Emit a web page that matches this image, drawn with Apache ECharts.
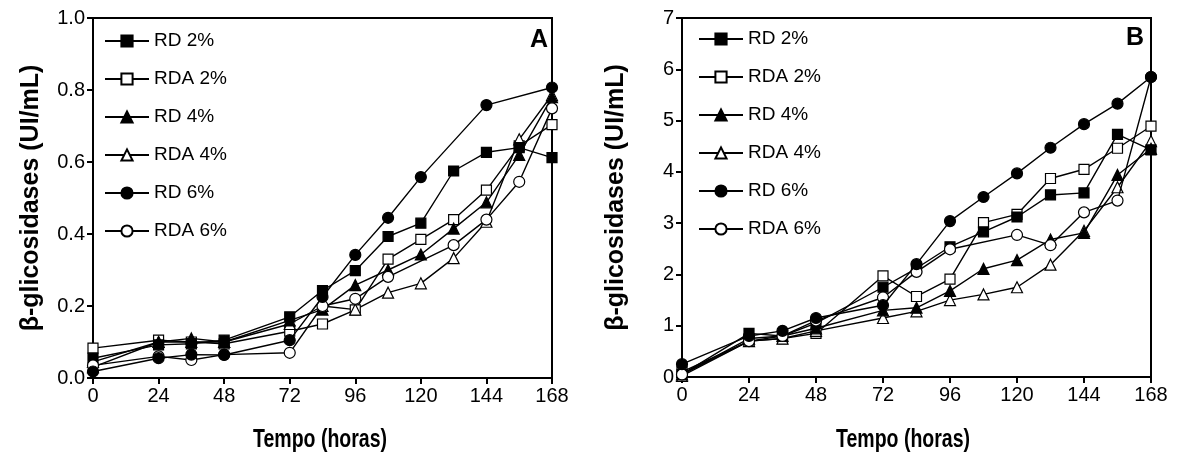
<!DOCTYPE html>
<html>
<head>
<meta charset="utf-8">
<script src="https://cdn.jsdelivr.net/npm/echarts@6/dist/echarts.min.js"></script>
<style>
html,body{margin:0;padding:0;background:#fff;}
#c{width:1181px;height:465px;}
</style>
</head>
<body>
<div id="c"></div>
<script>
// ---- data ----
const hours = [0, 24, 36, 48, 72, 84, 96, 108, 120, 132, 144, 156, 168];
const seriesNames = ['RD 2%', 'RDA 2%', 'RD 4%', 'RDA 4%', 'RD 6%', 'RDA 6%'];

// Panel A (UI/mL)
const A_RD2  = [0.055, 0.092, 0.095, 0.105, 0.170, 0.243, 0.298, 0.393, 0.430, 0.575, 0.627, 0.640, 0.612];
const A_RDA2 = [0.083, 0.105, 0.100, 0.095, 0.130, 0.150, 0.189, 0.330, 0.385, 0.440, 0.522, 0.645, 0.704];
const A_RD4  = [0.045, 0.100, 0.110, 0.100, 0.160, 0.190, 0.258, 0.300, 0.343, 0.415, 0.488, 0.620, 0.780];
const A_RDA4 = [0.030, 0.100, 0.100, 0.100, 0.150, 0.200, 0.190, 0.237, 0.263, 0.333, 0.434, 0.663, 0.786];
const A_RD6  = [0.018, 0.055, 0.065, 0.064, 0.105, 0.225, 0.342, 0.445, 0.558, null, 0.758, null, 0.807];
const A_RDA6 = [0.035, 0.060, 0.050, 0.065, 0.070, 0.200, 0.220, 0.281, null, 0.369, 0.440, 0.545, 0.749];

// Panel B (UI/mL)
const B_RD2  = [0.05, 0.85, 0.80, 1.05, 1.75, 2.12, 2.54, 2.83, 3.12, 3.55, 3.59, 4.73, 4.43];
const B_RDA2 = [0.10, 0.70, 0.75, 0.85, 1.97, 1.57, 1.91, 3.01, 3.17, 3.87, 4.05, 4.46, 4.89];
const B_RD4  = [0.05, 0.75, 0.80, 0.95, 1.30, 1.35, 1.68, 2.11, 2.28, 2.68, 2.81, 3.94, 4.45];
const B_RDA4 = [0.02, 0.70, 0.75, 0.90, 1.15, 1.28, 1.50, 1.61, 1.75, 2.19, 2.85, 3.70, 4.60];
const B_RD6  = [0.25, 0.80, 0.90, 1.15, 1.40, 2.20, 3.04, 3.51, 3.97, 4.47, 4.93, 5.33, 5.85];
const B_RDA6 = [0.05, 0.70, 0.80, 1.10, 1.55, 2.05, 2.49, null, 2.77, 2.57, 3.21, 3.44, 5.85];

const yTitle = 'β-glicosidases (UI/mL)';
const xTitle = 'Tempo (horas)';
const panelLabels = ['A', 'B'];

// ---- styling ----
const FONT = 'Liberation Sans, Arial, sans-serif';
const markers = [
  {symbol: 'rect', fill: '#000', size: 10},
  {symbol: 'rect', fill: '#fff', size: 10},
  {symbol: 'triangle', fill: '#000', size: 11},
  {symbol: 'triangle', fill: '#fff', size: 11},
  {symbol: 'circle', fill: '#000', size: 11},
  {symbol: 'circle', fill: '#fff', size: 11}
];
const zOrder = [3, 2, 4, 2, 6, 5];

function pts(arr) {
  const out = [];
  hours.forEach((h, i) => { if (arr[i] !== null) out.push([h, arr[i]]); });
  return out;
}

function makeSeries(arrs, gi) {
  return arrs.map((arr, k) => ({
    name: seriesNames[k],
    type: 'line',
    xAxisIndex: gi, yAxisIndex: gi,
    data: pts(arr),
    symbol: markers[k].symbol,
    symbolSize: markers[k].size,
    lineStyle: {color: '#000', width: 1.4},
    itemStyle: {color: markers[k].fill, borderColor: '#000', borderWidth: 1.2},
    emphasis: {disabled: true},
    animation: false,
    z: zOrder[k]
  }));
}

const axisCommon = {
  axisLine: {show: true, onZero: false, lineStyle: {color: '#000', width: 2}},
  axisTick: {show: true, inside: false, length: 6, lineStyle: {color: '#000', width: 2}},
  splitLine: {show: false},
  axisLabel: {color: '#000', fontFamily: FONT, fontSize: 20, margin: 8}
};

function xAx(gi) {
  return Object.assign({}, axisCommon, {
    type: 'value', gridIndex: gi, min: 0, max: 168, interval: 24
  });
}
function yAx(gi, max, interval, fmt, gap) {
  return Object.assign({}, axisCommon, {
    type: 'value', gridIndex: gi, min: 0, max: max, interval: interval,
    axisLabel: Object.assign({}, axisCommon.axisLabel, {formatter: fmt}),
    name: yTitle, nameLocation: 'middle', nameGap: gap, nameRotate: 90,
    nameTextStyle: {color: '#000', fontFamily: FONT, fontWeight: 'bold', fontSize: 25}
  });
}

function legend(left, top) {
  return {
    data: seriesNames,
    orient: 'vertical', left: left, top: top,
    itemWidth: 44, itemHeight: 14, itemGap: 18,
    textStyle: {color: '#000', fontFamily: FONT, fontSize: 19, lineHeight: 20},
    inactiveColor: '#000', selectedMode: false
  };
}

function xTitleText(cx) {
  return {
    type: 'text', x: cx, y: 440, scaleX: 0.78,
    style: {text: xTitle, fill: '#000', font: 'bold 25px ' + FONT, textAlign: 'center', textVerticalAlign: 'middle'}
  };
}

const chart = echarts.init(document.getElementById('c'), null, {renderer: 'canvas'});
chart.setOption({
  backgroundColor: '#fff',
  animation: false,
  grid: [
    {left: 93, top: 18, width: 459, height: 360, show: true, borderColor: '#000', borderWidth: 2, backgroundColor: 'transparent'},
    {left: 682, top: 18, width: 469, height: 359, show: true, borderColor: '#000', borderWidth: 2, backgroundColor: 'transparent'}
  ],
  xAxis: [xAx(0), xAx(1)],
  yAxis: [
    yAx(0, 1.0, 0.2, v => v.toFixed(1), 49),
    yAx(1, 7, 1, v => String(v), 53)
  ],
  legend: [legend(99, 26), legend(693, 24)],
  series: makeSeries([A_RD2, A_RDA2, A_RD4, A_RDA4, A_RD6, A_RDA6], 0)
    .concat(makeSeries([B_RD2, B_RDA2, B_RD4, B_RDA4, B_RD6, B_RDA6], 1)),
  graphic: [
    {type: 'text', x: 539, y: 40, style: {text: panelLabels[0], fill: '#000', font: 'bold 25px ' + FONT, textAlign: 'center', textVerticalAlign: 'middle'}},
    {type: 'text', x: 1135, y: 38, style: {text: panelLabels[1], fill: '#000', font: 'bold 25px ' + FONT, textAlign: 'center', textVerticalAlign: 'middle'}},
    xTitleText(320),
    xTitleText(903)
  ]
});
</script>
</body>
</html>
